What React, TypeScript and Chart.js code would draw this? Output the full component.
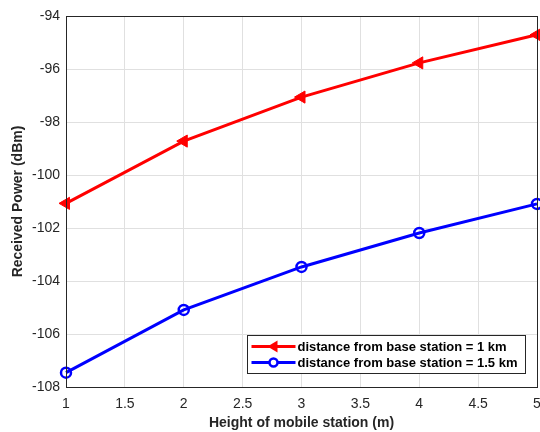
import React, { useEffect, useRef } from "react";
import { Chart, registerables } from "chart.js";

Chart.register(...registerables);

const heights = [1, 2, 3, 4, 5];
const power1km = [-101.07, -98.72, -97.06, -95.77, -94.71];
const power15km = [-107.46, -105.09, -103.47, -102.19, -101.09];
const seriesLabels = ["distance from base station = 1 km", "distance from base station = 1.5 km"];
const xTitle = "Height of mobile station (m)";
const yTitle = "Received Power (dBm)";

const FONT = "'Liberation Sans', Arial, sans-serif";

const boxPlugin = {
  id: "boxAndLegend",
  afterDraw(chart: any) {
    const { ctx, chartArea } = chart;
    const { left, top, right, bottom } = chartArea;
    ctx.save();
    ctx.strokeStyle = "#262626";
    ctx.lineWidth = 1;
    ctx.strokeRect(Math.round(left) + 0.5, Math.round(top) + 0.5, Math.round(right - left), Math.round(bottom - top));
    // legend
    const lx = 247.5, ly = 335.5, lw = 278, lh = 38;
    ctx.fillStyle = "#ffffff";
    ctx.fillRect(lx, ly, lw, lh);
    ctx.strokeStyle = "#262626";
    ctx.strokeRect(lx, ly, lw, lh);
    const rows = [
      { color: "#ff0000", marker: "tri", label: seriesLabels[0], y: ly + 11 },
      { color: "#0000ff", marker: "circ", label: seriesLabels[1], y: ly + 27 },
    ];
    rows.forEach((r) => {
      ctx.strokeStyle = r.color;
      ctx.lineWidth = 3;
      ctx.beginPath();
      ctx.moveTo(lx + 4, r.y);
      ctx.lineTo(lx + 48, r.y);
      ctx.stroke();
      const cx = lx + 26;
      if (r.marker === "tri") {
        ctx.fillStyle = r.color;
        ctx.beginPath();
        ctx.moveTo(cx - 6, r.y);
        ctx.lineTo(cx + 4, r.y - 6);
        ctx.lineTo(cx + 4, r.y + 6);
        ctx.closePath();
        ctx.fill();
      } else {
        ctx.lineWidth = 2.5;
        ctx.fillStyle = "#ffffff";
        ctx.beginPath();
        ctx.arc(cx, r.y, 4, 0, Math.PI * 2);
        ctx.fill();
        ctx.stroke();
      }
      ctx.fillStyle = "#000000";
      ctx.font = `bold 13px ${FONT}`;
      ctx.textBaseline = "middle";
      ctx.textAlign = "left";
      ctx.fillText(r.label, lx + 50, r.y + 1);
    });
    ctx.restore();
  },
};

export default function App() {
  const ref = useRef<HTMLCanvasElement>(null);
  useEffect(() => {
    if (!ref.current) return;
    const chart = new Chart(ref.current, {
      type: "line",
      data: {
        datasets: [
          {
            label: seriesLabels[0],
            data: heights.map((h, i) => ({ x: h, y: power1km[i] })),
            borderColor: "#ff0000",
            backgroundColor: "#ff0000",
            borderWidth: 3,
            pointStyle: "triangle",
            rotation: -90,
            pointRadius: 7,
            pointBorderWidth: 1,
            pointBackgroundColor: "#ff0000",
            pointBorderColor: "#ff0000",
            tension: 0,
            clip: false as any,
          },
          {
            label: seriesLabels[1],
            data: heights.map((h, i) => ({ x: h, y: power15km[i] })),
            borderColor: "#0000ff",
            backgroundColor: "#0000ff",
            borderWidth: 3,
            pointStyle: "circle",
            pointRadius: 5,
            pointBorderWidth: 2.5,
            pointBackgroundColor: "rgba(255,255,255,0)",
            pointBorderColor: "#0000ff",
            tension: 0,
            clip: false as any,
          },
        ],
      },
      options: {
        animation: false,
        responsive: false,
        maintainAspectRatio: false,
        layout: { autoPadding: false, padding: { top: 16, right: 3, left: 0, bottom: 0 } },
        plugins: { legend: { display: false }, tooltip: { enabled: false } },
        scales: {
          x: {
            type: "linear",
            min: 1,
            max: 5,
            ticks: {
              stepSize: 0.5,
              color: "#262626",
              font: { family: FONT, size: 14 },
              padding: 9,
              callback: (v: any) => String(Number(v)),
            },
            grid: { color: "#e0e0e0", tickLength: 0, drawTicks: false },
            border: { display: false },
            title: { display: true, text: xTitle, color: "#262626", font: { family: FONT, size: 14, weight: "bold" }, padding: { top: 0, bottom: 0 } },
            afterFit: (s: any) => { s.height = 45; s.paddingRight = 0; s.paddingLeft = 0; },
          },
          y: {
            type: "linear",
            min: -108,
            max: -94,
            ticks: { stepSize: 2, color: "#262626", font: { family: FONT, size: 14 }, padding: 6 },
            grid: { color: "#e0e0e0", tickLength: 0, drawTicks: false },
            border: { display: false },
            title: { display: true, text: yTitle, color: "#262626", font: { family: FONT, size: 14, weight: "bold" }, padding: { top: 10, bottom: 4 } },
            afterFit: (s: any) => { s.width = 66; s.paddingTop = 0; s.paddingBottom = 0; },
          },
        },
      },
      plugins: [boxPlugin],
    });
    return () => chart.destroy();
  }, []);
  return (
    <div style={{ position: "absolute", left: 0, top: 0, width: 540, height: 432, background: "#fff" }}>
      <canvas ref={ref} width={540} height={432} style={{ width: 540, height: 432 }} />
    </div>
  );
}
